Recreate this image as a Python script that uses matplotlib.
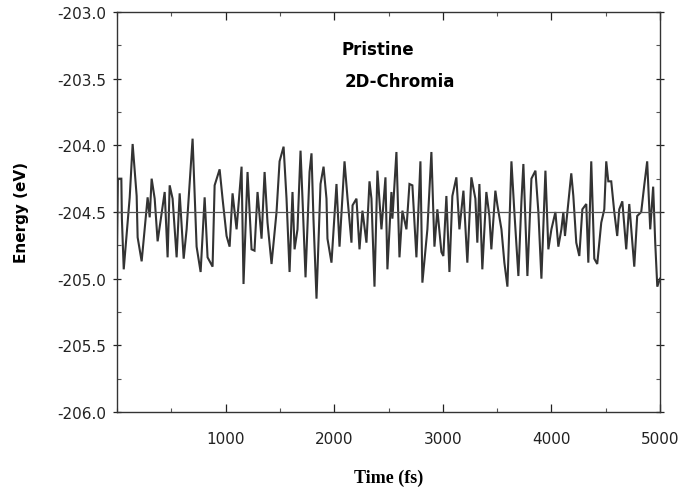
import matplotlib
matplotlib.use("Agg")
import matplotlib.pyplot as plt
from matplotlib.ticker import MultipleLocator

# Time (fs) and energy (eV) (turning points)
time_fs = [0, 8, 40, 45, 62, 117, 144, 181, 190, 227, 282, 301, 319, 347, 374, 439, 466,
           485, 512, 549, 577, 614, 641, 696, 733, 770, 807,
           834, 880, 899, 945, 972, 1009, 1037, 1064, 1101, 1147, 1165, 1202, 1239, 1266,
           1294, 1331, 1359, 1386, 1423, 1469, 1497, 1534, 1561, 1589, 1616,
           1635, 1662, 1690, 1708, 1736, 1773, 1791, 1809, 1837, 1874, 1902, 1929, 1938,
           1975, 2021, 2049, 2095, 2123, 2159, 2169, 2205, 2233, 2260, 2297, 2325, 2343,
           2371, 2398, 2435, 2472,
           2490, 2527, 2536, 2573, 2601, 2628, 2665, 2693, 2720, 2757, 2794, 2812, 2858,
           2895, 2923, 2950, 2987, 3005, 3033, 3061, 3088, 3125, 3153, 3190, 3226, 3263, 3300,
           3318, 3337, 3364, 3401, 3429, 3447, 3484, 3503, 3540, 3567, 3595, 3632, 3659,
           3696, 3724, 3742, 3779, 3816, 3853, 3880, 3908, 3945, 3972, 4000, 4037, 4064,
           4092, 4110, 4125,
           4147, 4183, 4202, 4229, 4257, 4285, 4321, 4340, 4367, 4395, 4422, 4459, 4487,
           4505, 4524, 4551, 4579, 4606, 4625, 4653, 4689, 4717, 4763, 4790, 4827, 4855,
           4882, 4910, 4937, 4956, 4975, 5000]
energy_ev = [-204.75, -204.25, -204.25, -204.55, -204.93, -204.39, -203.99, -204.38, -204.69,
             -204.87, -204.39, -204.54, -204.25, -204.40, -204.72, -204.35, -204.84,
             -204.30, -204.40, -204.84, -204.36, -204.85, -204.63, -203.95, -204.76,
             -204.95, -204.39,
             -204.84, -204.91, -204.30, -204.18, -204.40, -204.68, -204.76, -204.36,
             -204.63, -204.16, -205.04, -204.20, -204.78, -204.79, -204.35, -204.70,
             -204.20, -204.58, -204.89, -204.50, -204.12, -204.01, -204.40, -204.95, -204.35,
             -204.78, -204.63, -204.04, -204.40, -204.99, -204.20, -204.06, -204.55,
             -205.15, -204.29, -204.16, -204.40, -204.70, -204.88, -204.29, -204.76,
             -204.12, -204.40, -204.73, -204.45, -204.40, -204.78, -204.49, -204.73,
             -204.27, -204.40, -205.06, -204.19, -204.63, -204.24,
             -204.93, -204.35, -204.55, -204.05, -204.84, -204.49, -204.63, -204.29,
             -204.30, -204.84, -204.12, -205.03, -204.63, -204.05, -204.76, -204.48,
             -204.80, -204.83, -204.38, -204.95, -204.38, -204.24, -204.63, -204.34,
             -204.88, -204.24, -204.40,
             -204.73, -204.29, -204.93, -204.35, -204.53, -204.78, -204.34, -204.45,
             -204.63, -204.88, -205.06, -204.12, -204.50, -204.98, -204.42, -204.14,
             -204.98, -204.25, -204.19, -204.50, -205.00, -204.19, -204.78, -204.63,
             -204.50, -204.76, -204.63, -204.50, -204.68,
             -204.50, -204.21, -204.38, -204.73, -204.83, -204.48, -204.44, -204.88,
             -204.12, -204.85, -204.89, -204.58, -204.48, -204.12, -204.27, -204.27,
             -204.50, -204.68, -204.48, -204.42, -204.78, -204.44, -204.91, -204.53,
             -204.50, -204.30, -204.12, -204.63, -204.31, -204.73, -205.06, -205.00]

mean_energy = -204.5
y_ticks = [-206.0, -205.5, -205.0, -204.5, -204.0, -203.5, -203.0]
x_ticks = [1000, 2000, 3000, 4000, 5000]
title_line1 = "Pristine"
title_line2 = "2D-Chromia"

fig = plt.figure(figsize=(6.8, 4.89), dpi=100)
ax = fig.add_axes([117 / 680, 1 - 413 / 489, (660 - 117) / 680, 400 / 489])

ax.plot(time_fs, energy_ev, color="#333333", lw=1.5, solid_joinstyle="miter")
ax.axhline(mean_energy, color="#555555", lw=0.9)

ax.set_xlim(0, 5000)
ax.set_ylim(-206.0, -203.0)
ax.set_xticks(x_ticks)
ax.set_yticks(y_ticks)
ax.set_yticklabels([f"{v:.1f}" for v in y_ticks])
ax.xaxis.set_minor_locator(MultipleLocator(500))
ax.yaxis.set_minor_locator(MultipleLocator(0.25))

ax.tick_params(axis="both", which="major", direction="inout", length=6, width=0.9,
               labelsize=11, colors="#222222", top=True, right=True, pad=5)
ax.tick_params(axis="both", which="minor", direction="in", length=3, width=0.8,
               top=True, right=True, colors="#555555")
ax.tick_params(axis="x", which="major", direction="in", pad=14)

for s in ax.spines.values():
    s.set_color("#333333")
    s.set_linewidth(1.0)

ax.set_xlabel("Time (fs)", family="Liberation Serif", fontweight="bold", fontsize=13,
              labelpad=16)
ax.set_ylabel("Energy (eV)", fontweight="bold", fontsize=11, labelpad=20)

ax.text(2400, -203.28, title_line1, ha="center", va="center", fontsize=12,
        fontweight="bold")
ax.text(2600, -203.52, title_line2, ha="center", va="center", fontsize=12,
        fontweight="bold")

fig.savefig("out.png", dpi=100)
